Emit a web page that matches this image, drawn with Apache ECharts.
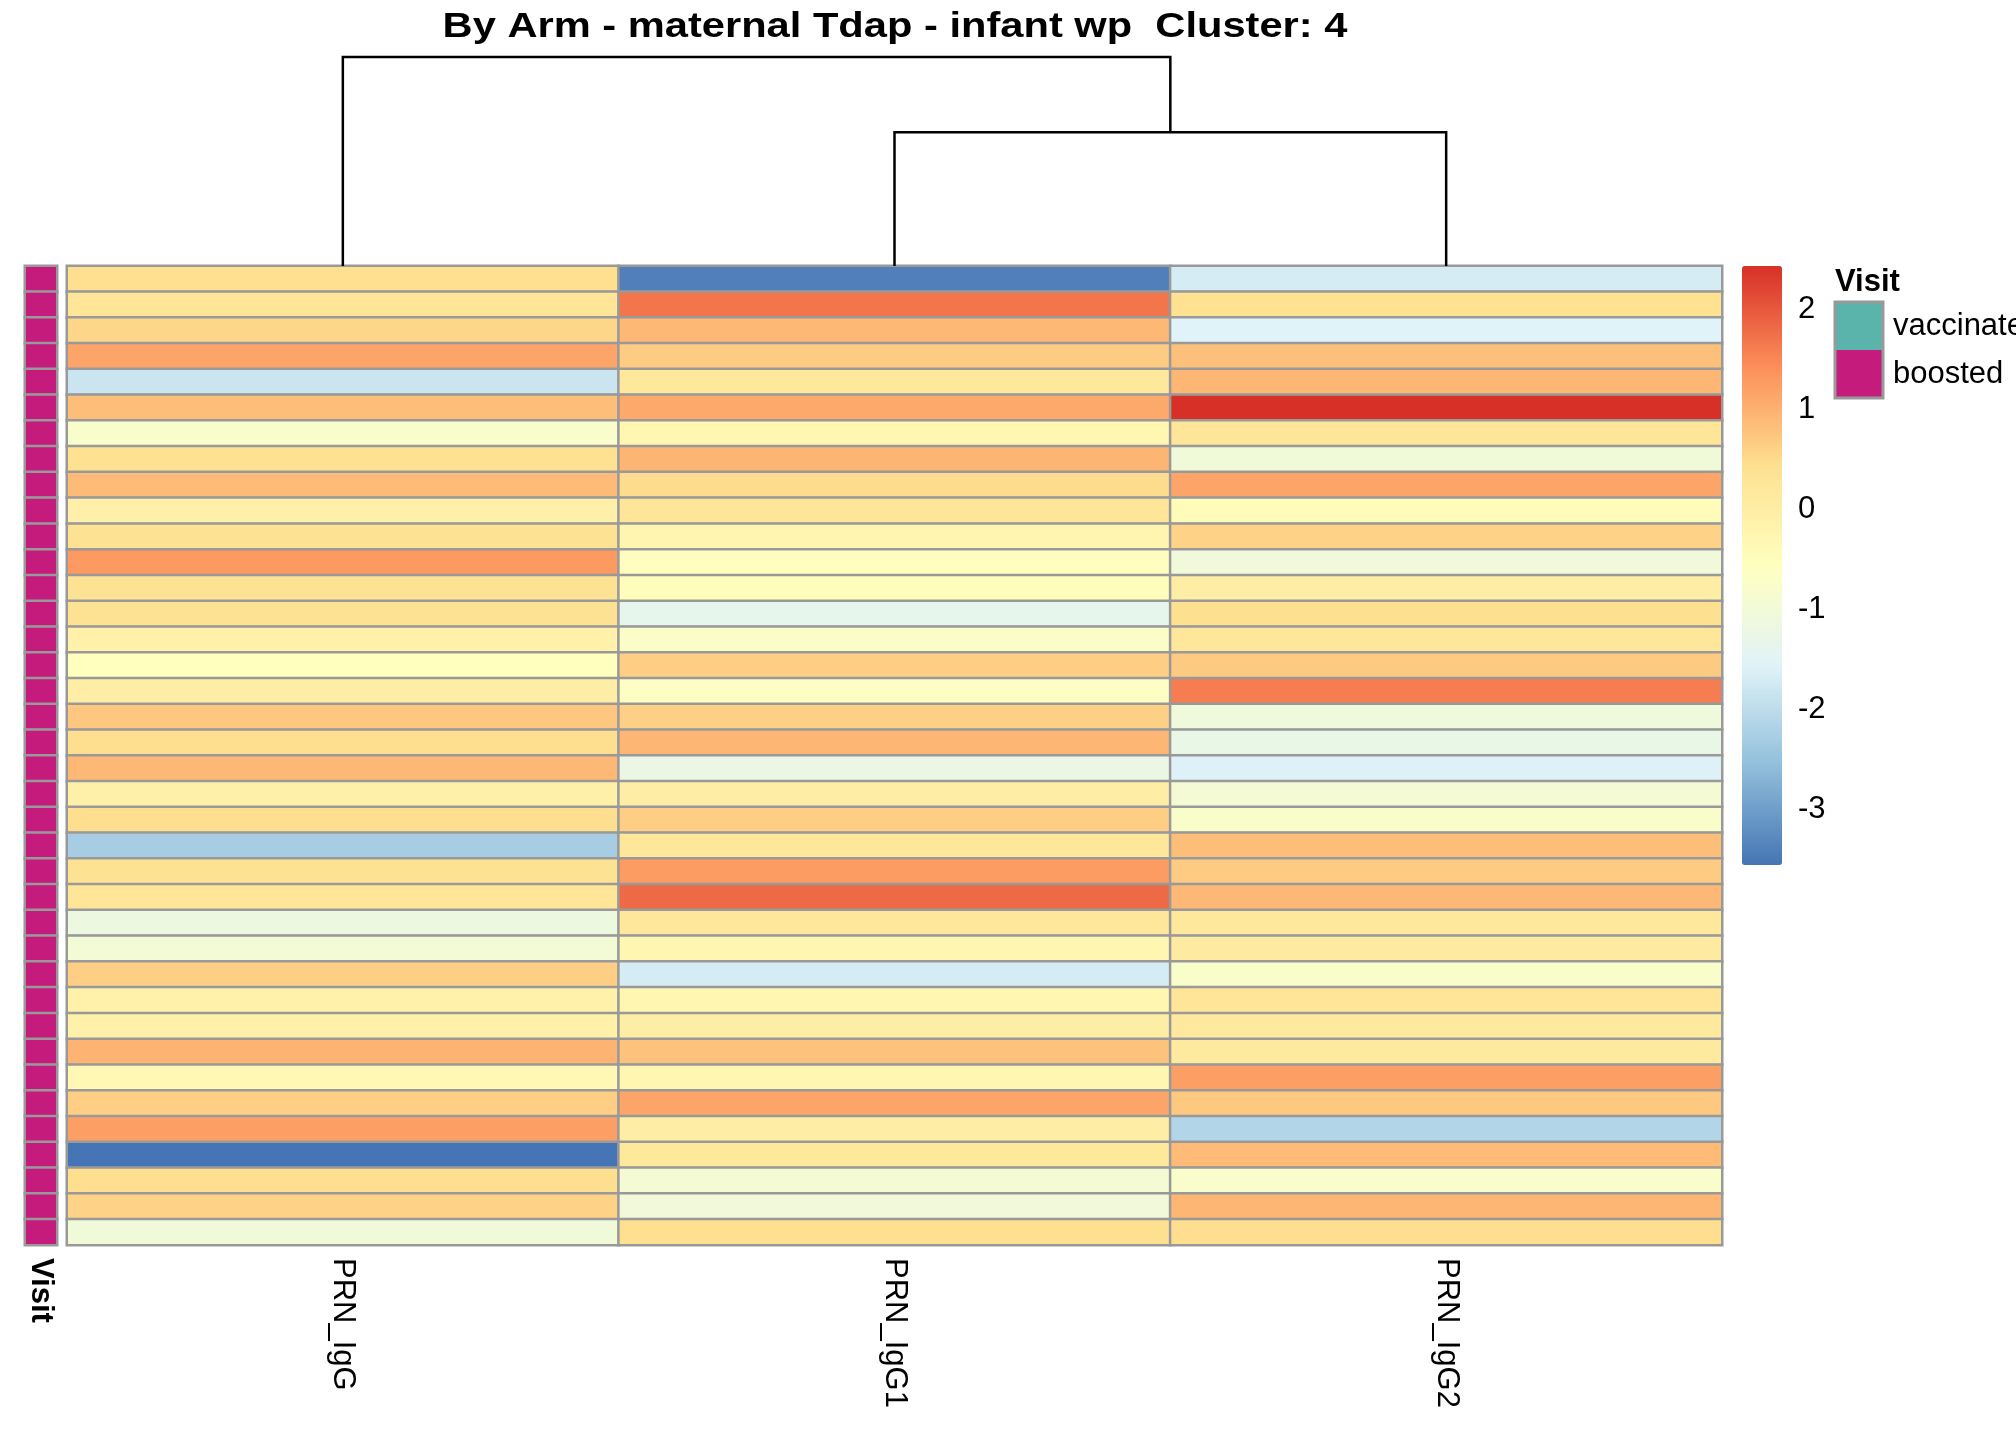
<!DOCTYPE html>
<html>
<head>
<meta charset="utf-8">
<script src="https://cdn.jsdelivr.net/npm/echarts@6/dist/echarts.min.js"></script>
<style>
html,body{margin:0;padding:0;background:#fff;}
#chart{width:2016px;height:1440px;}
</style>
</head>
<body>
<div id="chart"></div>
<script>
// ---- data ----
const columns = ['PRN_IgG', 'PRN_IgG1', 'PRN_IgG2'];
const rowIds = Array.from({length: 38}, (_, i) => String(i + 1));
const prnIgG = [0.43,0.27,0.55,1.15,-1.84,0.84,-0.77,0.41,0.88,-0.09,0.38,1.27,0.38,0.38,-0.1,-0.55,-0.02,0.73,0.44,0.91,-0.09,0.44,-2.29,0.38,0.27,-1.16,-0.97,0.65,-0.1,-0.1,0.96,-0.34,0.65,1.22,-3.56,0.46,0.6,-1.0];
const prnIgG1 = [-3.42,1.69,0.92,0.68,0.17,1.09,-0.28,0.95,0.48,0.27,-0.25,-0.54,-0.5,-1.35,-0.72,0.65,-0.66,0.63,0.94,-1.21,0.01,0.65,0.2,1.25,1.81,0.2,-0.28,-1.7,-0.28,-0.02,0.79,-0.28,1.15,-0.02,0.17,-0.93,-1.03,0.42];
const prnIgG2 = [-1.69,0.41,-1.57,0.82,0.94,2.43,0.27,-1.0,1.15,-0.44,0.59,-1.03,0.0,0.42,0.2,0.7,1.6,-1.07,-1.26,-1.6,-0.93,-0.76,0.84,0.68,0.92,0.17,0.08,-0.76,0.27,0.14,0.11,1.22,0.72,-2.14,0.88,-0.77,0.94,0.44];
const visitLevels = ['vaccinated', 'boosted'];
const visit = Array(38).fill('boosted');
const scaleTicks = [-3, -2, -1, 0, 1, 2];
const scaleMin = -3.56, scaleMax = 2.43;
// dendrogram merges: [left member, right member, height]; members >= 0 are columns, negative = -(merge index + 1)
const dendroMerges = [[1, 2, 0.64], [0, -1, 1.0]];

const palette = ['#4575B4', '#91BFDB', '#E0F3F8', '#FFFFBF', '#FEE090', '#FC8D59', '#D73027'];
const visitColors = ['#5AB4AC', '#C51B7D'];
const FONT = '"Liberation Sans", Arial, sans-serif';
const GRID = '#999999';

// ---- build ----
const seriesCols = [prnIgG, prnIgG1, prnIgG2];
const heatData = [];
seriesCols.forEach((arr, c) => arr.forEach((v, r) => heatData.push([c, r, v])));
const visitData = visit.map((v, r) => [0, r, visitLevels.indexOf(v)]);

const mergePos = [];
const mergeH = [];
const dendroData = dendroMerges.map((m, i) => {
  const pos = k => k >= 0 ? k : mergePos[-k - 1];
  const hgt = k => k >= 0 ? 0 : mergeH[-k - 1];
  const xl = pos(m[0]), xr = pos(m[1]);
  mergePos[i] = (xl + xr) / 2; mergeH[i] = m[2];
  return [xl, hgt(m[0]), xr, hgt(m[1]), m[2]];
});

const HM = {left: 67, top: 266, width: 1655, height: 979};

const chart = echarts.init(document.getElementById('chart'));
chart.setOption({
  animation: false,
  backgroundColor: '#ffffff',
  textStyle: {fontFamily: FONT},
  grid: [
    {left: HM.left, top: HM.top, width: HM.width, height: HM.height},
    {left: 25, top: HM.top, width: 32, height: HM.height},
    {left: 1742, top: HM.top, width: 40, height: 599},
    {left: HM.left, top: 57, width: HM.width, height: HM.top - 57}
  ],
  xAxis: [
    {type: 'category', gridIndex: 0, data: columns, position: 'bottom',
      axisLine: {show: false}, axisTick: {show: false}, splitLine: {show: false},
      axisLabel: {rotate: -90, margin: 13, fontSize: 31, color: '#000', fontFamily: FONT}},
    {type: 'category', gridIndex: 1, data: ['Visit'], position: 'bottom',
      axisLine: {show: false}, axisTick: {show: false},
      axisLabel: {rotate: -90, margin: 13, fontSize: 31, fontWeight: 'bold', color: '#000', fontFamily: FONT}},
    {type: 'value', gridIndex: 2, show: false, min: 0, max: 1},
    {type: 'value', gridIndex: 3, show: false, min: -0.5, max: 2.5}
  ],
  yAxis: [
    {type: 'category', gridIndex: 0, data: rowIds, inverse: true, show: false},
    {type: 'category', gridIndex: 1, data: rowIds, inverse: true, show: false},
    {type: 'value', gridIndex: 2, min: scaleMin, max: scaleMax, position: 'right',
      axisLine: {show: false}, axisTick: {show: false}, splitLine: {show: false},
      axisLabel: {customValues: scaleTicks, margin: 16, fontSize: 31, color: '#000', fontFamily: FONT}},
    {type: 'value', gridIndex: 3, show: false, min: 0, max: 1}
  ],
  visualMap: [
    {type: 'continuous', seriesIndex: 0, dimension: 2, min: scaleMin, max: scaleMax,
      calculable: false, realtime: false, orient: 'vertical',
      left: 1742, top: HM.top, itemWidth: 40, itemHeight: 599, padding: 0,
      inRange: {color: palette}, textStyle: {fontSize: 0}},
    {type: 'piecewise', seriesIndex: 1, dimension: 2, orient: 'vertical', inverse: true,
      align: 'left',
      left: 1835, top: 302, itemWidth: 48, itemHeight: 48, itemGap: 0, textGap: 10, padding: 0,
      itemSymbol: 'rect', selectedMode: false,
      pieces: visitLevels.map((l, i) => ({value: i, label: l, color: visitColors[i]})),
      textStyle: {fontSize: 31, color: '#000', fontFamily: FONT}}
  ],
  graphic: [
    {type: 'text', x: 895, y: 27, scaleX: 1.19, style: {text: 'By Arm - maternal Tdap - infant wp  Cluster: 4',
      font: 'bold 35px ' + FONT, fill: '#000', align: 'center', verticalAlign: 'middle'}},
    {type: 'text', x: 1835, y: 282, style: {text: 'Visit', font: 'bold 31px ' + FONT,
      fill: '#000', align: 'left', verticalAlign: 'middle'}},
    {type: 'rect', shape: {x: 1835, y: 302, width: 48, height: 96}, z: 100,
      style: {fill: 'none', stroke: GRID, lineWidth: 3}}
  ],
  series: [
    {type: 'heatmap', xAxisIndex: 0, yAxisIndex: 0, data: heatData,
      itemStyle: {borderColor: GRID, borderWidth: 2.5}, emphasis: {disabled: true}},
    {type: 'heatmap', xAxisIndex: 1, yAxisIndex: 1, data: visitData,
      itemStyle: {borderColor: GRID, borderWidth: 2.5}, emphasis: {disabled: true}},
    {type: 'custom', xAxisIndex: 3, yAxisIndex: 3, data: dendroData, silent: true,
      renderItem: function (params, api) {
        const p1 = api.coord([api.value(0), api.value(1)]);
        const p2 = api.coord([api.value(0), api.value(4)]);
        const p3 = api.coord([api.value(2), api.value(4)]);
        const p4 = api.coord([api.value(2), api.value(3)]);
        return {type: 'polyline', shape: {points: [p1, p2, p3, p4]},
          style: {stroke: '#000', lineWidth: 2.5, fill: null}};
      }}
  ]
});
</script>
</body>
</html>
